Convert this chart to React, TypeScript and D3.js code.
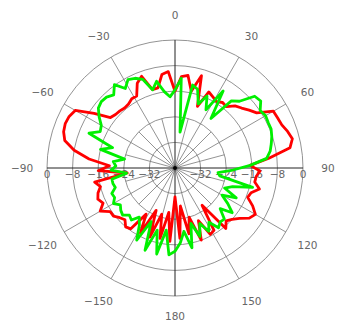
import { useEffect, useRef } from 'react'
import * as d3 from 'd3'

// angles in degrees, 0 at top, clockwise; 4 deg steps from -180
const angles = d3.range(-180, 180, 4)

const redDb = [
  -31, -17, -26, -17.5, -25, -17, -25.5, -17, -23, -16.5,
  -16, -17.5, -16.8, -15.6, -15.6, -13, -15, -14, -14.7, -16,
  -14.5, -25, -16, -19.5, -13, -8, -4.5, -3.4, -3, -3.2,
  -4, -9.5, -14.4, -15, -15.2, -15.5, -15.3, -14.5, -14.5, -11,
  -9.5, -14.5, -14.4, -10.5, -9.8, -16, -11.4, -10.8, -15.5, -10,
  -19.5, -14, -14.8, -15.5, -14.7, -15, -13, -12, -10.6, -9.2,
  -4.5, -4.3, -4, -3, -2.2, -3.5, -10.5, -16.5, -13.4, -14.5,
  -14.7, -12.8, -15, -15.5, -13, -11, -12, -14.4, -16, -17,
  -15.3, -25.6, -17, -16.5, -22, -16, -24, -19, -28, -18,
]

const greenDb = [
  -14, -12.8, -20.4, -12.5, -19.8, -12.6, -21.7, -14.5, -19, -21,
  -18.8, -19.5, -18, -18.5, -19.4, -17.8, -19, -18.7, -20.4, -20,
  -20, -24.8, -20, -21.5, -20.6, -24, -16, -19.5, -11, -14,
  -13.4, -11.4, -9.6, -9, -9.2, -10.2, -7.8, -10.7, -8.7, -9.3,
  -10.5, -14.6, -12.3, -15.9, -17.7, -15.6, -11.9, -28.7, -13.5, -14.4,
  -18.7, -15.4, -19.4, -11.6, -20.9, -12.6, -11, -6.5, -6, -7.9,
  -7.3, -7.6, -7.6, -8.2, -9, -9.8, -11.2, -16.5, -21.9, -26.5,
  -25.8, -15, -21.1, -23.3, -18.7, -23, -20.1, -17.3, -21, -17.8,
  -18, -16.9, -20, -17.6, -21, -17.2, -22, -14.5, -20, -16.5,
]

const ringTicks = [0, -8, -16, -24, -32]
const angleTicks = [0, 30, 60, 90, 120, 150, 180, -150, -120, -90, -60, -30]

const W = 342, H = 324
const CX = 175, CY = 168, R = 128

export default function App() {
  const svgRef = useRef<SVGSVGElement>(null)

  useEffect(() => {
    const svg = d3.select(svgRef.current)
    svg.selectAll('*').remove()

    const r = d3.scaleLinear([-40, 0], [0, R]).clamp(true)
    const rad = (d: number) => (d * Math.PI) / 180
    const g = svg.append('g').attr('transform', `translate(${CX},${CY})`)
    const font = '"DejaVu Sans", sans-serif'

    // rings
    ringTicks.forEach((t) => {
      g.append('circle').attr('r', r(t)).attr('fill', 'none')
        .attr('stroke', '#777').attr('stroke-width', 0.8)
    })

    // inner spokes every 15 deg
    d3.range(0, 360, 15).forEach((a) => {
      if (a % 30 === 0) return
      g.append('line')
        .attr('x1', 0).attr('y1', 0)
        .attr('x2', r(-24) * Math.sin(rad(a))).attr('y2', -r(-24) * Math.cos(rad(a)))
        .attr('stroke', '#777').attr('stroke-width', 0.8)
    })

    // main spokes every 30 deg
    d3.range(0, 360, 30).forEach((a) => {
      const main = a % 90 === 0
      g.append('line')
        .attr('x1', 0).attr('y1', 0)
        .attr('x2', R * Math.sin(rad(a))).attr('y2', -R * Math.cos(rad(a)))
        .attr('stroke', main ? '#222' : '#777').attr('stroke-width', main ? 1 : 0.8)
    })

    // radial labels along the horizontal axis
    ringTicks.forEach((t) => {
      ;[-1, 1].forEach((s) => {
        g.append('text')
          .attr('x', s * r(t)).attr('y', 6)
          .attr('text-anchor', 'middle').attr('dominant-baseline', 'central')
          .attr('font-family', font).attr('font-size', 10.5).attr('fill', '#666')
          .text(t === 0 ? '0' : `\u2212${-t}`)
      })
    })

    // angle labels
    angleTicks.forEach((a) => {
      const lr = Math.abs(a) === 180 ? 148 : 153
      g.append('text')
        .attr('x', lr * Math.sin(rad(a))).attr('y', -lr * Math.cos(rad(a)))
        .attr('text-anchor', 'middle').attr('dominant-baseline', 'central')
        .attr('font-family', font).attr('font-size', 10.5).attr('fill', '#666')
        .text(a < 0 ? `\u2212${-a}` : `${a}`)
    })

    const line = d3.lineRadial<number>()
      .angle((_, i) => rad(angles[i]))
      .radius((d) => r(d))
      .curve(d3.curveLinearClosed)

    g.append('path').attr('d', line(redDb)).attr('fill', 'none')
      .attr('stroke', '#ff0000').attr('stroke-width', 2.8).attr('stroke-linejoin', 'round')
    g.append('path').attr('d', line(greenDb)).attr('fill', 'none')
      .attr('stroke', '#00f000').attr('stroke-width', 2.8).attr('stroke-linejoin', 'round')

    g.append('circle').attr('r', 2).attr('fill', '#000')
  }, [])

  return (
    <div style={{ position: 'fixed', left: 0, top: 0, background: '#fff' }}>
      <svg ref={svgRef} width={W} height={H} viewBox={`0 0 ${W} ${H}`} style={{ display: 'block' }} />
    </div>
  )
}
